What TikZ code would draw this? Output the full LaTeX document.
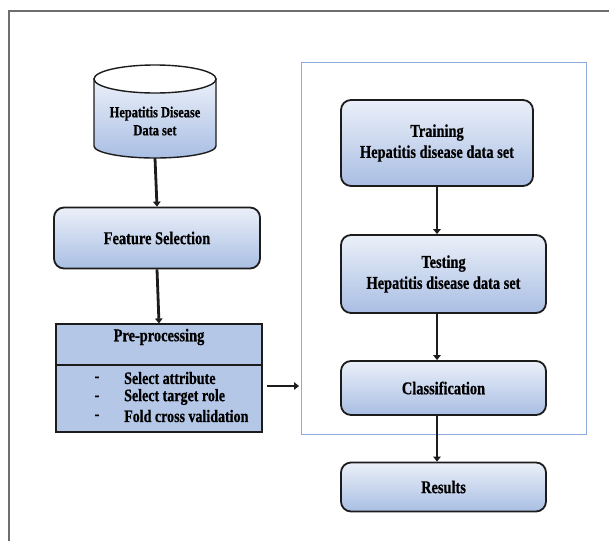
\documentclass[tikz,border=0pt]{standalone}
\usepackage{fontspec}
\setmainfont{Liberation Serif}[FakeStretch=0.8, BoldFeatures={FakeBold=0.6}]
\usetikzlibrary{arrows.meta}

\definecolor{boxtop}{HTML}{EBF0F9}
\definecolor{boxbot}{HTML}{A9BEE3}
\definecolor{preproc}{HTML}{B4C7E7}
\definecolor{edge}{HTML}{1C1C1C}
\definecolor{framegray}{HTML}{6E6E6E}
\definecolor{groupblue}{HTML}{8CAADB}

\tikzset{
  lbl/.style={font=\fontsize{18}{21}\selectfont\bfseries, text=black, align=center},
  rbox/.style={draw=edge, line width=1.8pt, rounded corners=10pt,
    top color=boxtop, bottom color=boxbot, inner sep=0pt, lbl},
  flow/.style={draw=edge, line width=2.8pt,
    -{Triangle[length=5pt,width=7.5pt]}},
  listtxt/.style={font=\fontsize{17.5}{19}\selectfont\bfseries, inner sep=0pt}
}

\begin{document}
\begin{tikzpicture}[x=1pt, y=-1pt]
  \useasboundingbox (0,0) rectangle (609,541);

  % page frame (only top and left edges fall inside)
  \draw[framegray, line width=1.2pt] (9,541) -- (9,11) -- (609,11);

  % group frame around the model stages
  \draw[groupblue, line width=1pt] (301,62) rectangle (586,434);

  % data set cylinder
  \shade[top color=boxtop, bottom color=boxbot, draw=edge, line width=1.4pt]
    (94,79) -- (94,146) arc[start angle=180, end angle=0, x radius=61, y radius=12]
    -- (216,79) -- cycle;
  \filldraw[fill=white, draw=edge, line width=1.4pt] (155,79) ellipse[x radius=61, y radius=14];
  \node[inner sep=0pt, minimum width=122pt, minimum height=93pt] (db) at (155,111.5) {};
  \node[font=\fontsize{15.5}{18}\selectfont\bfseries, align=center] (dbtxt) at (155,121)
    {Hepatitis Disease\\Data set};

  % feature selection
  \node[rbox, minimum width=206pt, minimum height=61pt] (fs) at (157,238)
    {Feature Selection};

  % pre-processing block
  \node[draw=edge, line width=1.2pt, fill=preproc, minimum width=206pt,
        minimum height=108pt, inner sep=0pt] (pp) at (159,378) {};
  \draw[edge, line width=1.2pt] (pp.west |- 0,365) -- (pp.east |- 0,365);
  \node[lbl] (pptitle) at (159,337) {Pre-processing};
  \node[listtxt] (d1) at (97,379) {-};
  \node[listtxt] (d2) at (97,398) {-};
  \node[listtxt] (d3) at (97,417) {-};
  \node[listtxt, anchor=west] (i1) at (124,378) {Select attribute};
  \node[listtxt, anchor=west] (i2) at (124,397) {Select target role};
  \node[listtxt, anchor=west] (i3) at (124,416) {Fold cross validation};

  % model stages
  \node[rbox, minimum width=192pt, minimum height=86pt] (train) at (437,143)
    {Training\\Hepatitis disease data set};
  \node[rbox, minimum width=205pt, minimum height=78pt] (test) at (443.5,274)
    {Testing\\Hepatitis disease data set};
  \node[rbox, minimum width=205pt, minimum height=54pt] (cls) at (443.5,388)
    {Classification};
  \node[rbox, minimum width=205pt, minimum height=49pt] (res) at (443.5,487)
    {Results};

  \coordinate (ppout) at (267,386);
  \coordinate (grpin) at (299,386);

  % connectors
  \draw[flow] (db.south) -- (fs.north);
  \draw[flow] (fs.south) -- (pp.north);
  \draw[flow] (ppout) -- (grpin);
  \draw[flow] (train.south) -- (train.south |- test.north);
  \draw[flow] (train.south |- test.south) -- (train.south |- cls.north);
  \draw[flow] (train.south |- cls.south) -- (train.south |- res.north);
\end{tikzpicture}
\end{document}
